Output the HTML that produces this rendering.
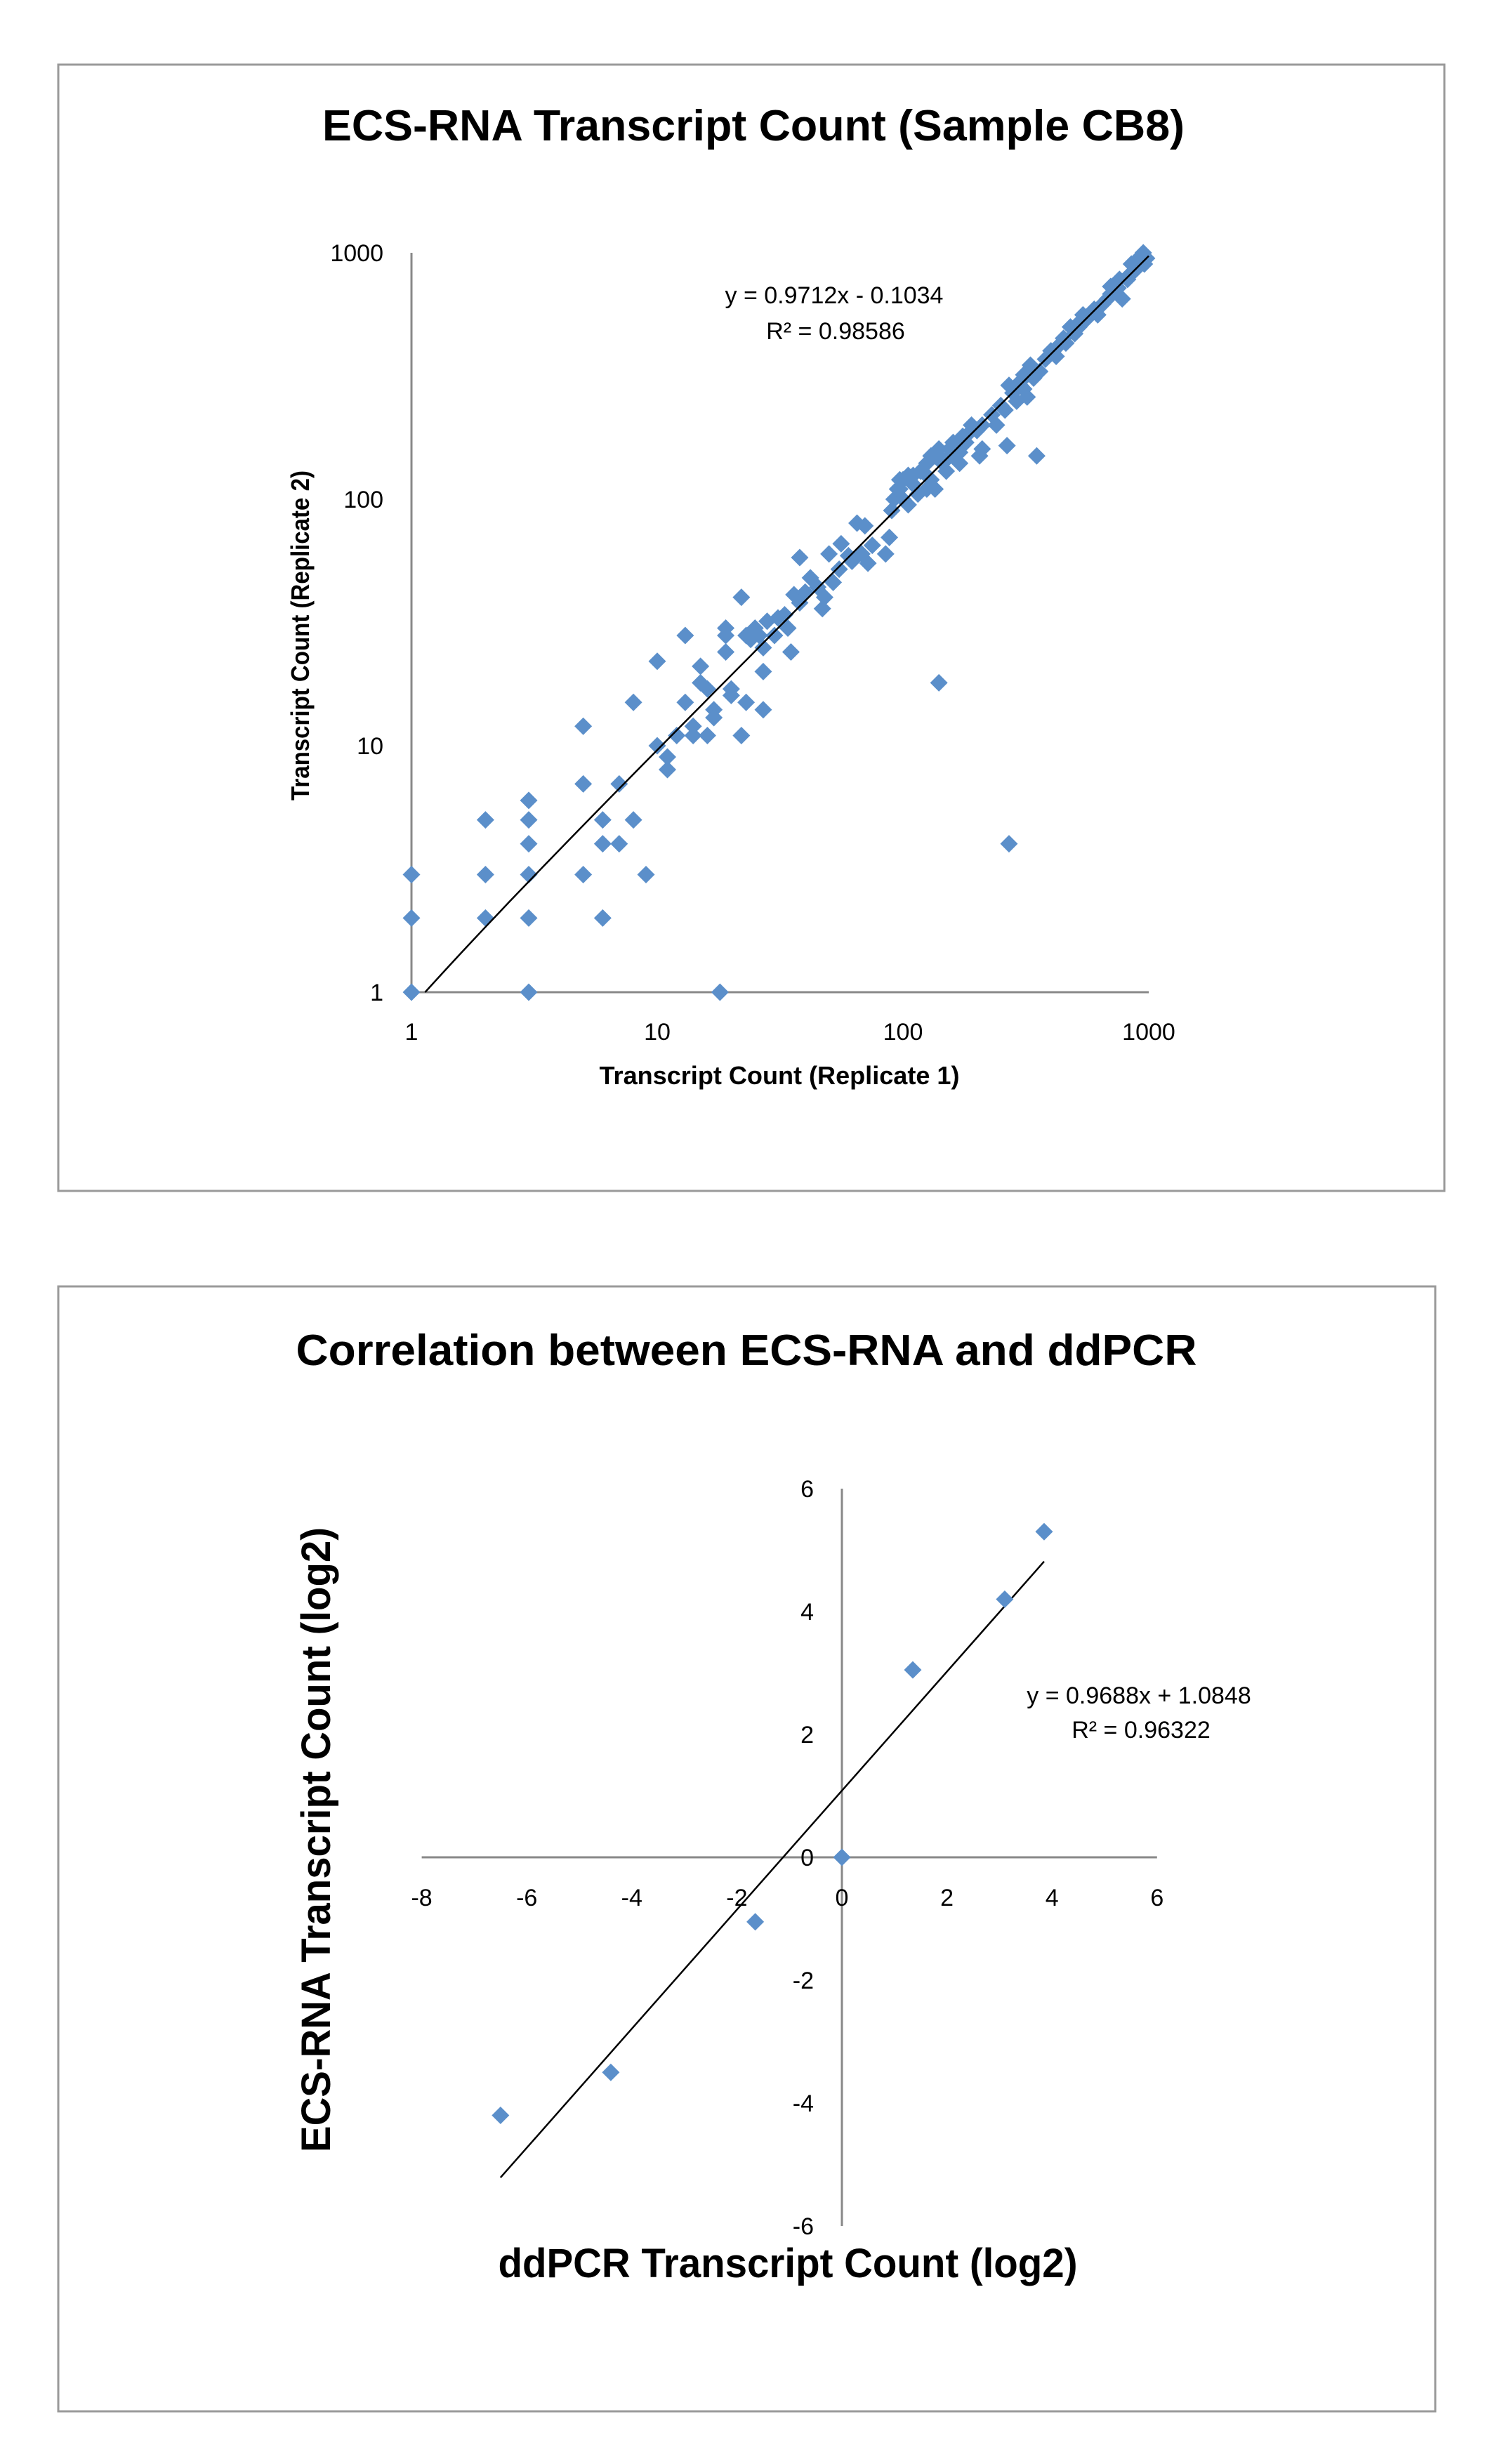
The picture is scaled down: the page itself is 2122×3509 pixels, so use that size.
<!DOCTYPE html>
<html><head><meta charset="utf-8"><style>
html,body{margin:0;padding:0;background:#fff;}
svg{display:block;font-family:"Liberation Sans",sans-serif;}
</style></head><body>
<svg id="svg" width="2122" height="3509" viewBox="0 0 2122 3509" xmlns="http://www.w3.org/2000/svg">
<rect x="0" y="0" width="2122" height="3509" fill="#fff"/>
<rect x="83" y="92" width="1974" height="1604" fill="none" stroke="#9a9a9a" stroke-width="3"/>
<rect x="83" y="1832" width="1961" height="1602" fill="none" stroke="#9a9a9a" stroke-width="3"/>
<text x="1073" y="200" text-anchor="middle" font-size="62" font-weight="bold" textLength="1228" lengthAdjust="spacingAndGlyphs">ECS-RNA Transcript Count (Sample CB8)</text>
<text x="1063" y="1944" text-anchor="middle" font-size="62" font-weight="bold" textLength="1283" lengthAdjust="spacingAndGlyphs">Correlation between ECS-RNA and ddPCR</text>
<g id="c1"></g><g id="c2"></g>
</svg>
<script>
// Chart 1 data (log-log)
const c1Ticks = [1, 10, 100, 1000];
const c1TickLabels = ["1", "10", "100", "1000"];
const c1X = [1,1,1,3,18,2,2,2,3,3,3,3,3,5,5,5,6,6,6,7,7,8,8,9,10,10,11,11,12,13,13,14,14,15,15,16,16,17,17,19,19,19,20,20,22,22,23,23,24,25,25,26,27,27,27,28,30,31,33,34,35,36,38,38,40,42,45,47,48,50,52,55,56,60,62,65,68,70,72,75,85,88,90,92,95,97,100,105,110,115,120,125,130,135,140,140,145,150,155,160,170,175,180,190,200,205,210,230,240,260,265,270,280,290,300,310,320,330,340,350,360,380,400,420,450,480,500,520,560,600,620,650,700,750,780,820,850,880,920,950,960,980,140,130,110,100,185,160,320,330,300,460,540,700,880,125,118,150,170,210,250,270,310,350,420,520,600,680,760,820,900,97,105,135];
const c1Y = [1,2,3,1,1,2,3,5,2,3,4,5,6,3,7,12,2,4,5,4,7,5,15,3,10,22,9,8,11,15,28,12,11,21,18,17,11,14,13,30,28,24,17,16,40,11,15,28,27,30,29,28,25,20,14,32,28,33,34,30,24,41,58,38,42,48,44,36,40,60,46,52,66,59,56,80,60,78,55,65,60,70,90,100,110,120,100,95,115,105,130,140,120,110,18,150,140,130,160,150,140,180,170,200,190,150,160,220,200,230,165,4,270,250,300,280,260,350,310,150,330,370,400,380,450,500,470,520,540,580,560,620,680,720,650,800,900,850,950,1000,900,950,160,150,125,120,185,170,320,330,290,430,560,730,920,110,130,145,155,200,240,290,320,330,410,500,590,650,780,780,870,110,125,150];
const c1Slope = 0.9712, c1Intercept = -0.1034;
// Chart 2 data
const c2XTicks = [-8,-6,-4,-2,0,2,4,6];
const c2YTicks = [-6,-4,-2,0,2,4,6];
const c2X = [-6.5,-4.4,-1.65,0,1.35,3.1,3.85];
const c2Y = [-4.2,-3.5,-1.05,0,3.05,4.2,5.3];
const c2Slope = 0.9688, c2Intercept = 1.0848;

const NS = "http://www.w3.org/2000/svg";
function mk(parent, tag, attrs, txt){const e=document.createElementNS(NS,tag);for(const k in attrs)e.setAttribute(k,attrs[k]);if(txt!==undefined)e.textContent=txt;parent.appendChild(e);return e;}
const MC = "#5b8fca";
function diamond(g,x,y,r){return mk(g,"polygon",{points:`${x},${y-r} ${x+r},${y} ${x},${y+r} ${x-r},${y}`,fill:MC});}

// ---- Chart 1
const g1 = document.getElementById("c1");
const X0=586, X1=1636, Y0=1413, Y1=360;
const sx1 = v => X0 + Math.log10(v)/3*(X1-X0);
const sy1 = v => Y0 - Math.log10(v)/3*(Y0-Y1);
let l = mk(g1,"line",{x1:X0,y1:Y1,x2:X0,y2:Y0,stroke:"#888",'stroke-width':3});


l = mk(g1,"line",{x1:X0,y1:Y0,x2:X1,y2:Y0,stroke:"#888",'stroke-width':3});


c1Ticks.forEach((t,i)=>{
  let a = mk(g1,"text",{x:546,y:sy1(t)+12,'text-anchor':'end','font-size':34},c1TickLabels[i]);
  
  
  let b = mk(g1,"text",{x:sx1(t),y:1481,'text-anchor':'middle','font-size':34},c1TickLabels[i]);
  
  
});
c1X.forEach((x,i)=>{
  const d = diamond(g1,sx1(x),sy1(c1Y[i]),12.5);
  
  
});
let pts=[];
const xs = (1-c1Intercept)/c1Slope;
for(let k=0;k<=60;k++){const lx=Math.log10(xs)+(3-Math.log10(xs))*k/60;const x=Math.pow(10,lx);const y=c1Slope*x+c1Intercept;pts.push(sx1(x).toFixed(1)+","+sy1(y).toFixed(1));}
l = mk(g1,"polyline",{points:pts.join(" "),fill:"none",stroke:"#000",'stroke-width':2.5});


let t = mk(g1,"text",{x:1188,y:432,'text-anchor':'middle','font-size':34},"y = 0.9712x - 0.1034");


t = mk(g1,"text",{x:1190,y:483,'text-anchor':'middle','font-size':34},"R² = 0.98586");


t = mk(g1,"text",{x:1110,y:1544,'text-anchor':'middle','font-size':36,'font-weight':'bold',textLength:513,lengthAdjust:'spacingAndGlyphs'},"Transcript Count (Replicate 1)");


t = mk(g1,"text",{x:0,y:0,'text-anchor':'middle','font-size':36,'font-weight':'bold',textLength:470,lengthAdjust:'spacingAndGlyphs',transform:'translate(440,905) rotate(-90)'},"Transcript Count (Replicate 2)");



// ---- Chart 2
const g2 = document.getElementById("c2");
const ux=74.8, uy=87.5, ox=1199, oy=2645;
const sx2 = v => ox + v*ux;
const sy2 = v => oy - v*uy;
l = mk(g2,"line",{x1:sx2(0),y1:sy2(6),x2:sx2(0),y2:sy2(-6),stroke:"#888",'stroke-width':3});


l = mk(g2,"line",{x1:sx2(-8),y1:oy,x2:sx2(6),y2:oy,stroke:"#888",'stroke-width':3});


c2YTicks.forEach(v=>{
  const a = mk(g2,"text",{x:1159,y:sy2(v)+12,'text-anchor':'end','font-size':34},String(v));
  
  
});
c2XTicks.forEach(v=>{
  const a = mk(g2,"text",{x:sx2(v),y:2714,'text-anchor':'middle','font-size':34},String(v));
  
  
});
const xa=Math.min(...c2X), xb=Math.max(...c2X);
l = mk(g2,"line",{x1:sx2(xa),y1:sy2(c2Slope*xa+c2Intercept),x2:sx2(xb),y2:sy2(c2Slope*xb+c2Intercept),stroke:"#000",'stroke-width':2.5});


c2X.forEach((x,i)=>{
  const d = diamond(g2,sx2(x),sy2(c2Y[i]),12.5);
  
  
});
t = mk(g2,"text",{x:1622,y:2426,'text-anchor':'middle','font-size':34},"y = 0.9688x + 1.0848");


t = mk(g2,"text",{x:1625,y:2475,'text-anchor':'middle','font-size':34},"R² = 0.96322");


t = mk(g2,"text",{x:1122,y:3243,'text-anchor':'middle','font-size':58,'font-weight':'bold',textLength:825,lengthAdjust:'spacingAndGlyphs'},"ddPCR Transcript Count (log2)");


t = mk(g2,"text",{x:0,y:0,'text-anchor':'middle','font-size':58,'font-weight':'bold',textLength:890,lengthAdjust:'spacingAndGlyphs',transform:'translate(470,2620) rotate(-90)'},"ECS-RNA Transcript Count (log2)");


</script>
</body></html>
